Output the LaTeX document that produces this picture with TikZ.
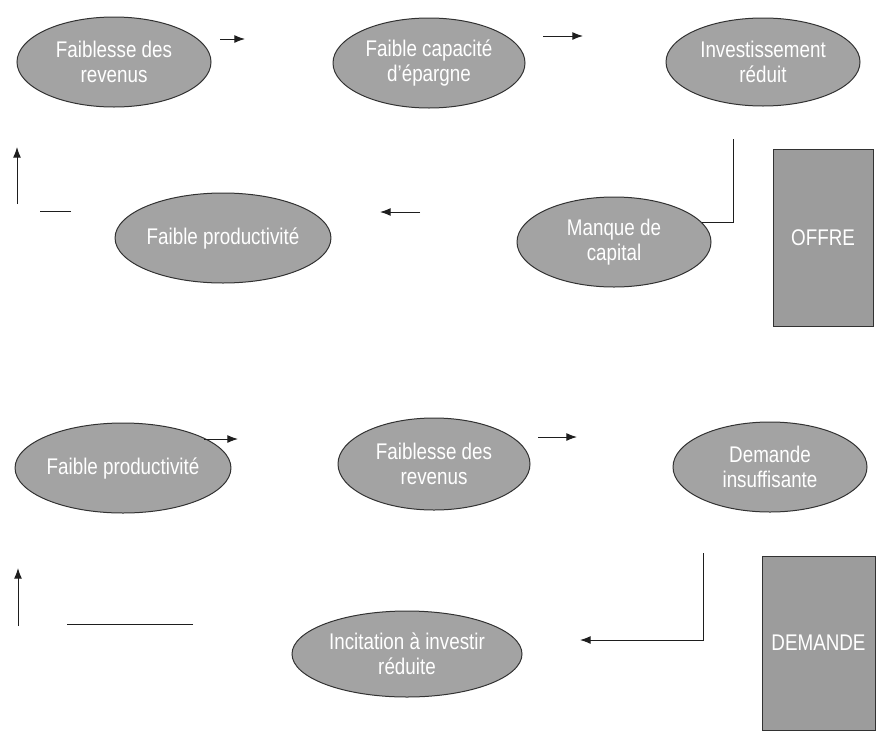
\documentclass[tikz,border=0pt]{standalone}
\usepackage{fontspec}
\setmainfont{Liberation Sans}[FakeStretch=0.83]
\usetikzlibrary{shapes.geometric,arrows.meta}
\definecolor{grisbulle}{RGB}{163,163,163}
\definecolor{grisbloc}{RGB}{156,156,156}
\definecolor{grisbord}{RGB}{50,50,50}
\definecolor{trait}{RGB}{30,30,30}

\tikzset{every picture/.style={line width=0.75pt}}
\tikzset{
  bulle/.style={ellipse, draw=grisbord, fill=grisbulle, text=white, align=center,
    inner sep=0pt, minimum width=145.5pt, minimum height=67.5pt,
    font=\fontsize{17}{19}\selectfont},
  bloc/.style={rectangle, draw=grisbord, fill=grisbloc, text=white,
    inner sep=0pt, font=\fontsize{17}{19}\selectfont},
  fleche/.style={draw=trait, -{Latex[length=8pt,width=6pt]}},
  ligne/.style={draw=trait}
}

\begin{document}
\begin{tikzpicture}[x=0.75pt,y=0.75pt,yscale=-1,xscale=1]
\useasboundingbox (0,0) rectangle (881,743);

%%% OFFRE

% Text Node
\draw (114,62) node [bulle] (revenusA) {Faiblesse des\\revenus};
% Text Node
\draw (429,63) node [bulle, minimum width=144pt] (epargne) {Faible capacité\\d'épargne};
% Text Node
\draw (763,62) node [bulle, minimum height=66pt] (invest) {Investissement\\réduit};
% Text Node
\draw (614,242) node [bulle] (capital) {Manque de\\capital};
% Text Node
\draw (223,238) node [bulle, minimum width=142.5pt] (prodA) {Faible productivité};
% Text Node
\draw (823,237.5) node [bloc, minimum width=75pt, minimum height=132.75pt] (offre) {OFFRE};

%Straight Lines
\coordinate (a1) at (220,39);  \coordinate (a2) at (245,39);
\draw [fleche] (a1) -- (a2);
\coordinate (b1) at (543,36);  \coordinate (b2) at (583,36);
\draw [fleche] (b1) -- (b2);
\coordinate (c1) at (733,139); \coordinate (c2) at (702,222);
\draw [ligne] (c1) |- (c2);
\coordinate (d1) at (420,212); \coordinate (d2) at (380,212);
\draw [fleche] (d1) -- (d2);
\coordinate (e1) at (71,211);  \coordinate (e2) at (40,211);
\draw [ligne] (e1) -- (e2);
\coordinate (f1) at (17,204);  \coordinate (f2) at (17,147);
\draw [fleche] (f1) -- (f2);

%%% DEMANDE

% Text Node
\draw (123,468) node [bulle] (prodB) {Faible productivité};
% Text Node
\draw (434,464) node [bulle, minimum width=144pt, minimum height=69pt] (revenusB) {Faiblesse des\\revenus};
% Text Node
\draw (770,467) node [bulle] (insuff) {Demande\\insuffisante};
% Text Node
\draw (407,654) node [bulle, minimum width=172.5pt, minimum height=64.5pt] (incit) {Incitation à investir\\réduite};
% Text Node
\draw (818.5,643) node [bloc, minimum width=84.75pt, minimum height=130.5pt] (demande) {DEMANDE};

%Straight Lines
\coordinate (g1) at (204,439); \coordinate (g2) at (238,439);
\draw [fleche] (g1) -- (g2);
\coordinate (h1) at (538,437); \coordinate (h2) at (577,437);
\draw [fleche] (h1) -- (h2);
\coordinate (i1) at (703,553); \coordinate (i2) at (580,640);
\draw [fleche] (i1) |- (i2);
\coordinate (j1) at (193,624); \coordinate (j2) at (67,624);
\draw [ligne] (j1) -- (j2);
\coordinate (k1) at (18,626);  \coordinate (k2) at (18,568);
\draw [fleche] (k1) -- (k2);

\end{tikzpicture}
\end{document}
